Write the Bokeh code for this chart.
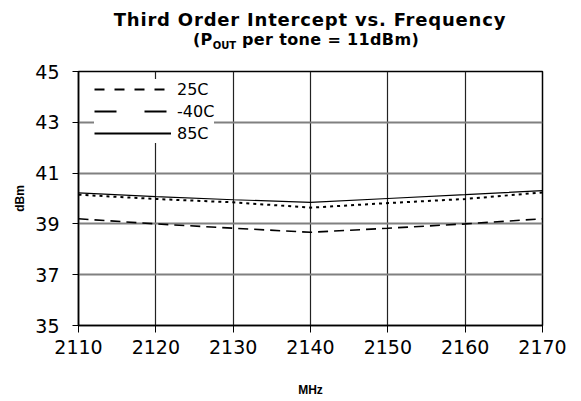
from bokeh.plotting import figure
from bokeh.layouts import column
from bokeh.models import (FixedTicker, Range1d, Legend, LegendItem, ColumnDataSource, Div)
from bokeh.embed import file_html
from bokeh.resources import INLINE

# ---- data ----
freq_mhz = [2110, 2120, 2130, 2140, 2150, 2160, 2170]
toi_85c = [40.22, 40.07, 39.95, 39.85, 40.00, 40.15, 40.31]
toi_25c = [40.15, 39.98, 39.85, 39.64, 39.82, 39.98, 40.24]
toi_m40c = [39.20, 39.00, 38.83, 38.67, 38.83, 39.00, 39.20]
x_ticks = [2110, 2120, 2130, 2140, 2150, 2160, 2170]
y_ticks = [35, 37, 39, 41, 43, 45]
series_labels = ["25C", "-40C", "85C"]
title_line1 = "Third Order Intercept vs. Frequency"
title_line2_a = "(P"
title_line2_sub = "OUT"
title_line2_b = " per tone = 11dBm)"

FONT = "DejaVu Sans"
TITLE_TOP = 9
TITLE_BOX = 40
TITLE_H = TITLE_TOP + TITLE_BOX

p = figure(width=581, height=401 - TITLE_H, output_backend="svg", toolbar_location=None,
           x_range=Range1d(2110, 2170), y_range=Range1d(35, 45),
           min_border_left=78, min_border_right=39, min_border_top=71 - TITLE_H,
           min_border_bottom=76)
p.background_fill_color = "white"
p.border_fill_color = "white"
p.outline_line_color = "black"
p.outline_line_width = 1.5

# axes
for ax in (p.xaxis[0], p.yaxis[0]):
    ax.axis_line_color = "black"
    ax.axis_line_width = 1.5
    ax.major_tick_line_color = "black"
    ax.major_tick_in = 0
    ax.minor_tick_line_color = None
    ax.major_label_text_font = FONT
    ax.major_label_text_font_size = "19px"
    ax.major_label_text_color = "black"
    ax.axis_label_text_font = "Liberation Sans"
    ax.axis_label_text_font_style = "bold"
    ax.axis_label_text_font_size = "12px"
    ax.axis_label_text_color = "black"

p.xaxis.ticker = FixedTicker(ticks=x_ticks)
p.yaxis.ticker = FixedTicker(ticks=y_ticks)
p.xaxis.major_tick_out = 7
p.yaxis.major_tick_out = 6
p.xaxis.major_label_standoff = 7
p.yaxis.major_label_standoff = 13
p.xaxis.axis_label = "MHz"
p.yaxis.axis_label = "dBm"
p.xaxis.axis_label_standoff = 26
p.yaxis.axis_label_standoff = 5

p.xgrid.grid_line_color = "#222222"
p.xgrid.grid_line_width = 1.2
p.ygrid.grid_line_color = "#808080"
p.ygrid.grid_line_width = 2

# data lines
p.line(freq_mhz, toi_m40c, line_color="black", line_width=1.6, line_dash="10 6")
p.line(freq_mhz, toi_25c, line_color="black", line_width=2, line_dash="3 4")
p.line(freq_mhz, toi_85c, line_color="black", line_width=1.2)

# legend (styled like the reference legend); sample renderers draw nothing
nan = float("nan")
empty = ColumnDataSource(data=dict(x=[nan], y=[nan]))
r25 = p.line("x", "y", source=empty, line_color="black", line_width=2, line_dash="10 10")
r40 = p.line("x", "y", source=empty, line_color="black", line_width=2, line_dash="22 28")
r85 = p.line("x", "y", source=empty, line_color="black", line_width=2)
legend = Legend(items=[LegendItem(label=series_labels[0], renderers=[r25]),
                       LegendItem(label=series_labels[1], renderers=[r40]),
                       LegendItem(label=series_labels[2], renderers=[r85])],
                location=(16, 182), glyph_width=77, glyph_height=20, label_height=20,
                spacing=2, padding=4, margin=0, label_standoff=6,
                label_text_font=FONT, label_text_font_size="16px", label_text_color="black",
                background_fill_color="white", background_fill_alpha=1.0,
                border_line_color=None)
p.add_layout(legend, "center")

# two-line title with a subscript
title_html = (
    f"<div style='font-size:18px;line-height:21px;letter-spacing:0.8px'>{title_line1}</div>"
    f"<div style='font-size:16px;line-height:19px;letter-spacing:0.35px;padding-right:8px'>"
    f"{title_line2_a}"
    f"<span style='font-size:10px;vertical-align:-4px;line-height:0;letter-spacing:0'>{title_line2_sub}</span>"
    f"{title_line2_b}</div>"
)
title = Div(text=title_html, width=542, height=TITLE_BOX, margin=(TITLE_TOP, 0, 0, 39),
            styles={"font-family": FONT, "font-weight": "bold",
                    "text-align": "center", "color": "black", "white-space": "nowrap"})

layout = column(title, p, spacing=0)
open("out.html", "w").write(file_html(layout, INLINE))
